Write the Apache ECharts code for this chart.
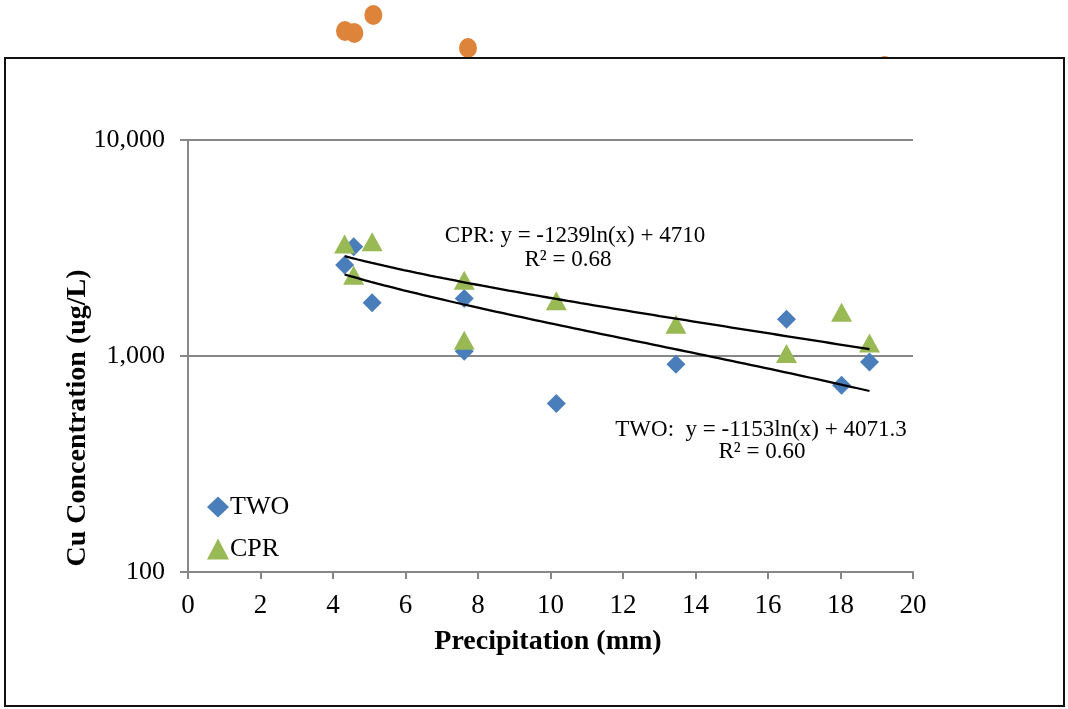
<!DOCTYPE html>
<html>
<head>
<meta charset="utf-8">
<script src="https://cdn.jsdelivr.net/npm/echarts@6/dist/echarts.min.js"></script>
<style>
  html, body { margin: 0; padding: 0; background: #fff; }
  #chart { width: 1068px; height: 709px; }
</style>
</head>
<body>
<div id="chart"></div>
<script>
// Precipitation per sampling event (mm)
const precipitation = [4.32, 4.57, 5.08, 7.62, 7.62, 10.16, 13.46, 16.51, 18.03, 18.80];
// Cu concentration (ug/L) at each event
const twoCu = [2635, 3203, 1763, 1847, 1053, 602, 916, 1481, 732, 939];
const cprCu = [3304, 2367, 3379, 2245, 1184, 1800, 1404, 1027, 1596, 1150];

// Logarithmic trend coefficients: y = a ln(x) + b
const twoFit = { a: -1153, b: 4071.3, r2: '0.60' };
const cprFit = { a: -1239, b: 4710, r2: '0.68' };

// Tick labels
const xTicks = [0, 2, 4, 6, 8, 10, 12, 14, 16, 18, 20];
const yTickLabels = { 100: '100', 1000: '1,000', 10000: '10,000' };

// Points of the neighbouring chart above (partly hidden by this chart's frame)
const upperX = [4.32, 4.57, 5.08, 7.62, 18.80];
const upperY = [27, 25, 43, 10, -8];

const FONT = 'Liberation Serif';

function pairs(xs, ys) { return xs.map((x, i) => [x, ys[i]]); }

function trend(fit) {
  const lo = Math.min(...precipitation), hi = Math.max(...precipitation);
  const pts = [];
  const n = 80;
  for (let i = 0; i <= n; i++) {
    const x = lo + (hi - lo) * i / n;
    pts.push([x, fit.a * Math.log(x) + fit.b]);
  }
  return pts;
}

const chart = echarts.init(document.getElementById('chart'), null, { renderer: 'canvas' });

const axisGrey = '#878787';

const option = {
  animation: false,
  backgroundColor: '#fff',
  grid: [
    { left: 188, right: 155, top: 140, bottom: 137 },
    { left: 184, right: 138.6, top: 0, height: 58 }
  ],
  xAxis: [
    {
      gridIndex: 0, type: 'value', min: 0, max: 20, interval: 2, z: 3,
      axisLine: { lineStyle: { color: axisGrey, width: 2 } },
      axisTick: { show: true, inside: false, length: 7, lineStyle: { color: axisGrey, width: 2 } },
      splitLine: { show: false },
      axisLabel: {
        color: '#000', fontFamily: FONT, fontSize: 27, margin: 20,
        formatter: v => xTicks.includes(v) ? String(v) : ''
      }
    },
    { gridIndex: 1, type: 'value', min: 0, max: 20, show: false }
  ],
  yAxis: [
    {
      gridIndex: 0, type: 'log', logBase: 10, min: 100, max: 10000, z: 3,
      axisLine: { show: true, lineStyle: { color: axisGrey, width: 2 } },
      axisTick: { show: true, inside: false, length: 8, lineStyle: { color: axisGrey, width: 2 } },
      splitLine: { show: true, lineStyle: { color: axisGrey, width: 2 } },
      axisLabel: {
        color: '#000', fontFamily: FONT, fontSize: 26, margin: 23,
        formatter: v => yTickLabels[Math.round(v)] || ''
      }
    },
    {
      gridIndex: 0, type: 'log', logBase: 10, min: 100, max: 10000, z: 3,
      axisLine: { show: false },
      axisTick: { show: true, inside: true, length: 8, lineStyle: { color: axisGrey, width: 2 } },
      splitLine: { show: false },
      axisLabel: { show: false }
    },
    { gridIndex: 1, type: 'value', min: 0, max: 58, show: false }
  ],
  legend: {
    orient: 'vertical', left: 202, top: 489, itemGap: 16,
    itemWidth: 22, itemHeight: 21,
    data: ['TWO', 'CPR'],
    textStyle: { color: '#000', fontFamily: FONT, fontSize: 26, padding: [0, 0, 0, -4] }
  },
  series: [
    {
      name: 'upper', type: 'scatter', xAxisIndex: 1, yAxisIndex: 2, z: 1, clip: false,
      symbol: 'circle', symbolSize: [18, 20],
      itemStyle: { color: '#DD833A', opacity: 1 },
      data: pairs(upperX, upperY)
    },
    {
      name: 'TWO', type: 'scatter', xAxisIndex: 0, yAxisIndex: 0, z: 4,
      symbol: 'diamond', symbolSize: [19, 19],
      itemStyle: { color: '#4A7EBB', opacity: 1 },
      data: pairs(precipitation, twoCu)
    },
    {
      name: 'CPR', type: 'scatter', xAxisIndex: 0, yAxisIndex: 0, z: 4,
      symbol: 'triangle', symbolSize: [21, 19],
      itemStyle: { color: '#98B954', opacity: 1 },
      data: pairs(precipitation, cprCu)
    },
    {
      name: 'CPR trend', type: 'line', xAxisIndex: 0, yAxisIndex: 0, z: 5,
      showSymbol: false, silent: true,
      lineStyle: { color: '#000', width: 2.3 },
      data: trend(cprFit)
    },
    {
      name: 'TWO trend', type: 'line', xAxisIndex: 0, yAxisIndex: 0, z: 5,
      showSymbol: false, silent: true,
      lineStyle: { color: '#000', width: 2.3 },
      data: trend(twoFit)
    }
  ],
  graphic: [
    {
      type: 'rect', z: 1.5, silent: true,
      shape: { x: 5, y: 58, width: 1059, height: 648 },
      style: { fill: '#fff', stroke: '#111', lineWidth: 2 }
    },
    {
      type: 'text', z: 6, x: 575, y: 236,
      style: { text: 'CPR: y = ' + cprFit.a + 'ln(x) + ' + cprFit.b, font: '23px ' + FONT, fill: '#000', align: 'center', verticalAlign: 'middle' }
    },
    {
      type: 'text', z: 6, x: 568, y: 260,
      style: { text: 'R² = ' + cprFit.r2, font: '23px ' + FONT, fill: '#000', align: 'center', verticalAlign: 'middle' }
    },
    {
      type: 'text', z: 6, x: 761, y: 430,
      style: { text: 'TWO:  y = ' + twoFit.a + 'ln(x) + ' + twoFit.b, font: '23px ' + FONT, fill: '#000', align: 'center', verticalAlign: 'middle' }
    },
    {
      type: 'text', z: 6, x: 762, y: 452,
      style: { text: 'R² = ' + twoFit.r2, font: '23px ' + FONT, fill: '#000', align: 'center', verticalAlign: 'middle' }
    },
    {
      type: 'text', z: 6, x: 78, y: 418, rotation: Math.PI / 2,
      style: { text: 'Cu Concentration (ug/L)', font: 'bold 28px ' + FONT, fill: '#000', align: 'center', verticalAlign: 'middle' }
    },
    {
      type: 'text', z: 6, x: 548, y: 642,
      style: { text: 'Precipitation (mm)', font: 'bold 28px ' + FONT, fill: '#000', align: 'center', verticalAlign: 'middle' }
    }
  ]
};

chart.setOption(option);
</script>
</body>
</html>
